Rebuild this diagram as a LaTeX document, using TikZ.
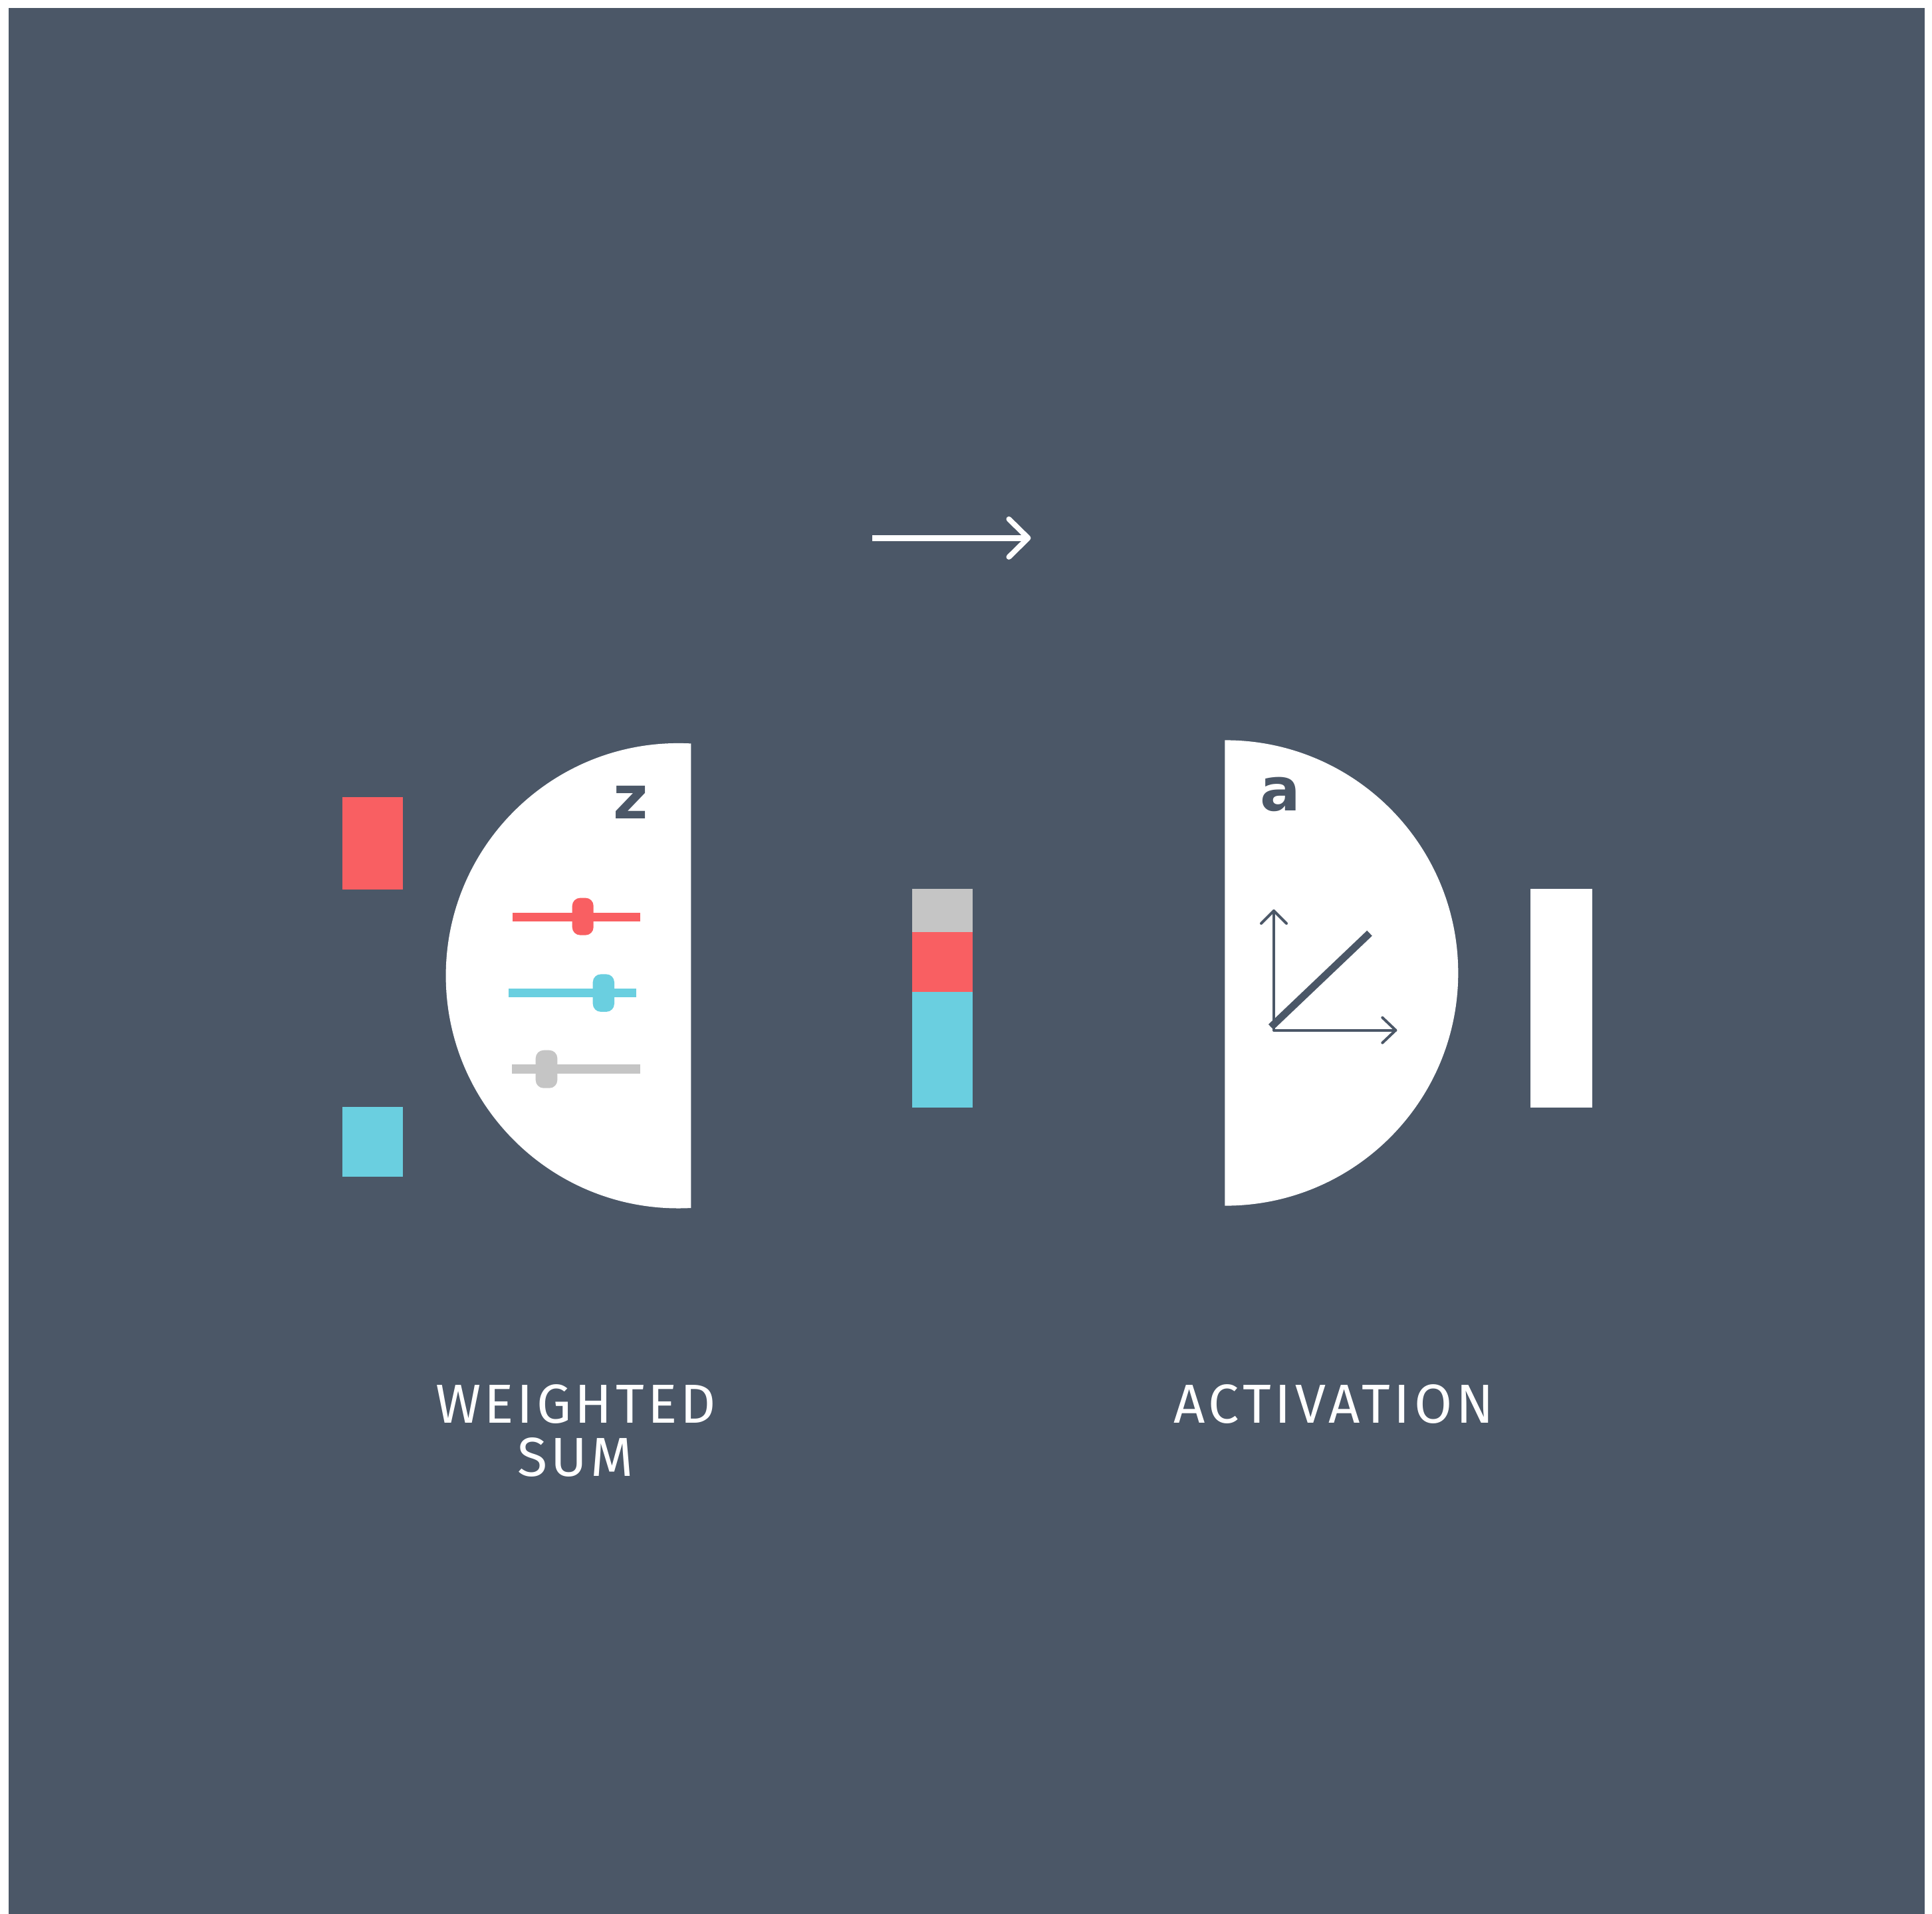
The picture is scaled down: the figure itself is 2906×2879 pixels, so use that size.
\documentclass[tikz,border=0pt]{standalone}
\usepackage{fontspec}
\newfontfamily\lblfontA[LetterSpace=6.3]{Fira Sans}
\newfontfamily\lblfontB[LetterSpace=7.2]{Fira Sans}
\newfontfamily\glyphfont{DejaVu Sans}
\definecolor{slate}{HTML}{4B5767}
\definecolor{redc}{HTML}{F95F62}
\definecolor{cyanc}{HTML}{6ACFE0}
\definecolor{grayc}{HTML}{C5C5C5}
\begin{document}
\begin{tikzpicture}[x=0.3pt,y=-0.3pt,
  knob/.style={rounded corners=3.6pt},
  axis/.style={draw=slate,line width=1.2pt,line cap=round,line join=round},
  label/.style={text=white,align=center,inner sep=0pt,anchor=base},
  letter/.style={text=slate,font=\glyphfont\bfseries\fontsize{27}{30}\selectfont,inner sep=0pt,anchor=base}]
\useasboundingbox (0,0) rectangle (2906,2879);
\fill[white] (0,0) rectangle (2906,2879);
\fill[slate] (13,12) rectangle (2895,2879);
% arrow
\coordinate (arrS) at (1312.3,809.3);
\coordinate (arrE) at (1544,809.3);
\coordinate (arrT) at (1546.5,809.3);
\draw[white,line width=2.7pt] (arrS) -- (arrE);
\draw[white,line width=2.4pt,line cap=round,line join=round] (arrT) ++(-29,-28.5) -- (arrT) -- ++(-29,28.5);
% left input squares
\fill[redc] (515.3,1199.3) rectangle (606,1338);
\fill[cyanc] (515.3,1665.3) rectangle (606,1770.3);
% left half disc
\begin{scope}
\clip (0,0) rectangle (1039.3,2879);
\fill[white] (1020.4,1467.7) circle (349.8);
\end{scope}
\node[letter] (z) at (948.5,1231) {z};
% sliders
\fill[redc] (771,1372.6) rectangle (963,1386);
\fill[redc,knob] (860.7,1350.6) rectangle (892.7,1406.6);
\fill[cyanc] (765,1486.5) rectangle (957,1500);
\fill[cyanc,knob] (891.7,1465.4) rectangle (924,1521.9);
\fill[grayc] (770,1600.8) rectangle (963,1615);
\fill[grayc,knob] (805.7,1579.7) rectangle (838.3,1636.7);
% stacked bar
\fill[grayc] (1371.7,1337.3) rectangle (1462.7,1402.3);
\fill[redc] (1371.7,1402.3) rectangle (1462.7,1492.3);
\fill[cyanc] (1371.7,1492.3) rectangle (1462.7,1666);
% right half disc
\begin{scope}
\clip (1842.3,0) rectangle (2906,2879);
\fill[white] (1843.2,1463.5) circle (350.1);
\end{scope}
\node[letter] (a) at (1926.2,1219.6) {a};
% axes
\coordinate (O) at (1916,1549.6);
\coordinate (ytip) at (1916,1370);
\coordinate (xtip) at (2099.3,1549.6);
\draw[axis] (O) -- (ytip);
\draw[axis] (ytip) ++(-19,19) -- (ytip) -- ++(19,19);
\draw[axis] (O) -- (xtip);
\draw[axis] (xtip) ++(-20,-19) -- (xtip) -- ++(-20,19);
\coordinate (d1) at (1911.7,1544.8);
\coordinate (d2) at (2060,1403.7);
\draw[slate,line width=3.3pt] (d1) -- (d2);
% output bar
\fill[white] (2301.7,1337.3) rectangle (2394.7,1666);
% labels
\node[label,font=\lblfontA\fontsize{24.8}{23.8}\selectfont] (ws) at (866,2220) {WEIGHTED\\SUM};
\node[label,font=\lblfontB\fontsize{24.8}{23.8}\selectfont] (act) at (2006,2140) {ACTIVATION};
\end{tikzpicture}
\end{document}
